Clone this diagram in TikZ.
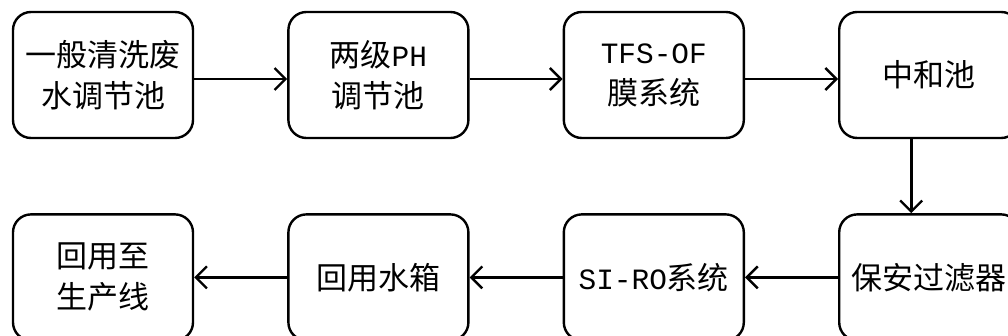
\documentclass[tikz,border=0pt]{standalone}
\usepackage{fontspec}
\newfontfamily\cjk{Noto Sans CJK SC}
\newfontfamily\lat[Scale=0.95]{Liberation Mono}
\usetikzlibrary{positioning,arrows.meta}

\begin{document}
\begin{tikzpicture}[x=1pt, y=1pt,
  stage/.style={draw, line width=2.4pt, rounded corners=18pt,
                minimum width=180pt, minimum height=126pt,
                align=center, font=\cjk\fontsize{31}{41}\selectfont},
  flow/.style={line width=2.6pt,
               -{Straight Barb[length=11pt, width=22pt, line width=2.4pt]}},
  ]
  \useasboundingbox (0,0) rectangle (1008,-336);

  % top row, left to right
  \node[stage] (tiaojie) at (103,-75) {一般清洗废\\水调节池};
  \node[stage, right=93pt of tiaojie] (phtank) {两级{\lat PH}\\调节池};
  \node[stage, right=93pt of phtank] (tfsof) {{\lat TFS-OF}\\膜系统};
  \node[stage, right=93pt of tfsof] (zhonghe) {中和池};

  % bottom row, right to left
  \node[stage, below=74pt of zhonghe] (baoan) {保安过滤器};
  \node[stage, left=93pt of baoan] (siro) {{\lat SI-RO}系统};
  \node[stage, left=93pt of siro] (huiyong) {回用水箱};
  \node[stage, left=93pt of huiyong] (shengchan) {回用至\\生产线};

  \draw[flow] ([yshift=-4pt]tiaojie.east) -- ([yshift=-4pt]phtank.west);
  \draw[flow] ([yshift=-4pt]phtank.east) -- ([yshift=-4pt]tfsof.west);
  \draw[flow] ([yshift=-4pt]tfsof.east) -- ([yshift=-4pt]zhonghe.west);
  \draw[flow] ([xshift=-18pt]zhonghe.south) -- ([xshift=-18pt]baoan.north);
  \draw[flow] (baoan) -- (siro);
  \draw[flow] (siro) -- (huiyong);
  \draw[flow] (huiyong) -- (shengchan);
\end{tikzpicture}
\end{document}
